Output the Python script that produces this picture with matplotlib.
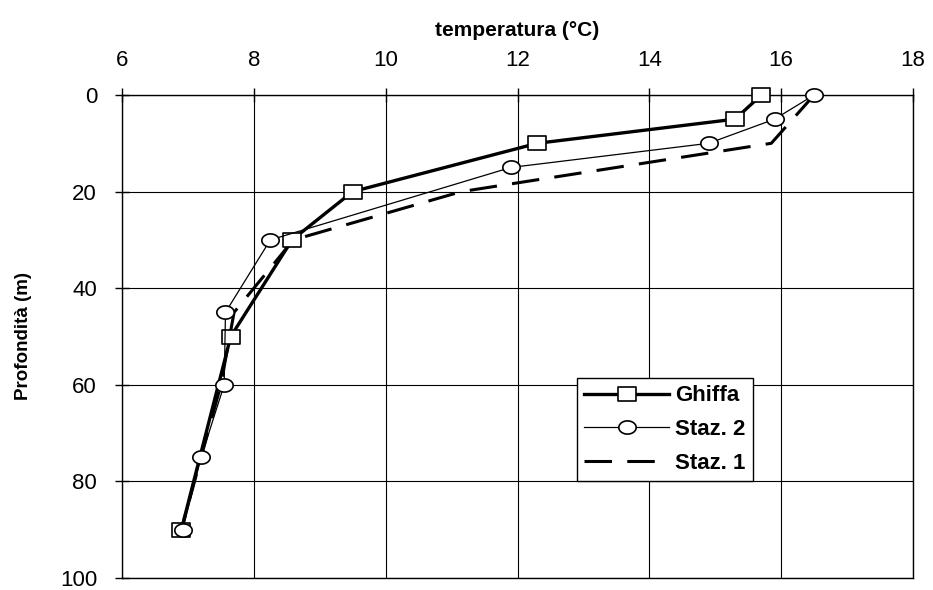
import numpy as np
import matplotlib
matplotlib.use("Agg")
import matplotlib.pyplot as plt
from matplotlib.path import Path

plt.rcParams['font.family'] = ['Liberation Sans', 'DejaVu Sans']

# profili di temperatura (temperatura °C, profondità m)
ghiffa_t = [15.7, 15.3, 12.3, 9.5, 8.58, 7.65, 6.9]
ghiffa_z = [0, 5, 10, 20, 30, 50, 90]

staz2_t = [16.5, 15.9, 14.9, 11.9, 8.25, 7.57, 7.55, 7.2, 6.92]
staz2_z = [0, 5, 10, 15, 30, 45, 60, 75, 90]

staz1_t = [16.5, 15.85, 11.15, 8.6, 7.7, 7.5, 7.2, 6.9]
staz1_z = [0, 10, 20, 30, 45, 60, 75, 90]

x_ticks = [6, 8, 10, 12, 14, 16, 18]
y_ticks = [0, 20, 40, 60, 80, 100]

# marker schiacciati (nell'originale sono piu' larghi che alti)
th = np.linspace(0, 2 * np.pi, 60)
ellipse = Path(np.column_stack([np.cos(th), 0.76 * np.sin(th)]), closed=True)
rect = Path([(-1, -0.82), (1, -0.82), (1, 0.82), (-1, 0.82), (-1, -0.82)], closed=True)

fig = plt.figure(figsize=(9.33, 5.9), dpi=100)
ax = fig.add_axes([122 / 933, 1 - 578 / 590, (913 - 122) / 933, (578 - 95) / 590])

ax.plot(staz1_t, staz1_z, color='black', lw=2.2, dashes=(9, 5), label='Staz. 1', zorder=3)
ax.plot(ghiffa_t, ghiffa_z, color='black', lw=2.4, marker=rect, ms=12.5,
        mfc='white', mec='black', mew=1.2, label='Ghiffa', zorder=4, clip_on=False)
ax.plot(staz2_t, staz2_z, color='black', lw=0.9, marker=ellipse, ms=12.5,
        mfc='white', mec='black', mew=1.2, label='Staz. 2', zorder=5, clip_on=False)

ax.set_xlim(6, 18)
ax.set_ylim(100, 0)
ax.set_xticks(x_ticks)
ax.set_yticks(y_ticks)
ax.xaxis.tick_top()
ax.xaxis.set_label_position('top')
ax.tick_params(direction='inout', length=10, width=1, labelsize=16)
ax.tick_params(axis='x', pad=12)
ax.tick_params(axis='y', pad=13)
ax.grid(True, color='black', lw=0.8)
ax.set_axisbelow(True)
for s in ax.spines.values():
    s.set_linewidth(1)

ax.set_xlabel('temperatura (°C)', fontsize=15, fontweight='bold', labelpad=10)
ax.set_ylabel('Profondità (m)', fontsize=13.5, fontweight='bold', labelpad=20)

h, l = ax.get_legend_handles_labels()
order = [1, 2, 0]
leg = ax.legend([h[i] for i in order], [l[i] for i in order], loc='upper left',
                bbox_to_anchor=((577 - 122) / 791, 1 - (378 - 95) / 483),
                frameon=True, fancybox=False, edgecolor='black', framealpha=1,
                prop={'weight': 'bold', 'size': 16}, handlelength=3.8, borderpad=0.33,
                labelspacing=0.58, handletextpad=0.3, borderaxespad=0)
leg.get_frame().set_linewidth(1)

fig.savefig('out.png', dpi=100)
